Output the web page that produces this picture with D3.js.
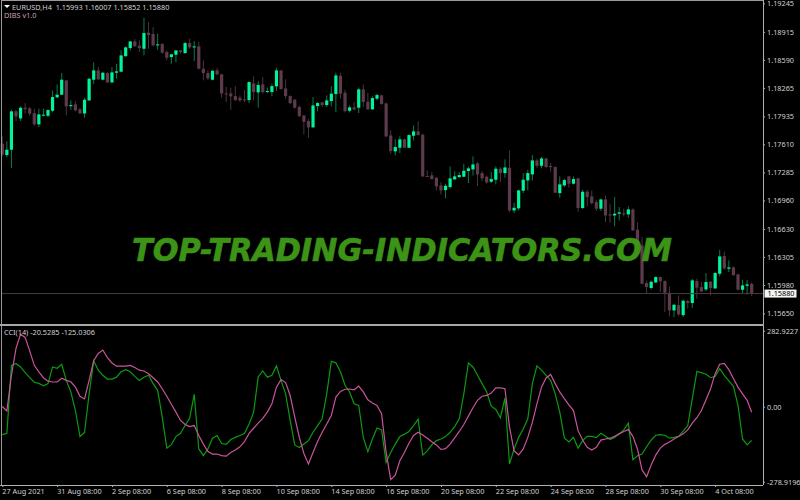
<!DOCTYPE html>
<html>
<head>
<meta charset="utf-8">
<script src="https://cdn.jsdelivr.net/npm/d3@7"></script>
<style>
  html, body { margin: 0; padding: 0; background: #000; }
  svg { display: block; }
  text { font-family: "Noto Sans", "DejaVu Sans", sans-serif; font-size: 7.3px; fill: #d0d0d0; }
</style>
</head>
<body>
<div id="chart"></div>
<script>
var open = [1.17618,1.17486,1.17548,1.17993,1.17911,1.18035,1.18027,1.17973,1.17842,1.17946,1.17942,1.18000,1.18155,1.18186,1.18352,1.18054,1.18074,1.18016,1.17969,1.18120,1.18360,1.18468,1.18360,1.18437,1.18329,1.18441,1.18453,1.18634,1.18727,1.18804,1.18754,1.18719,1.18905,1.18890,1.18762,1.18774,1.18681,1.18623,1.18650,1.18700,1.18669,1.18785,1.18739,1.18746,1.18487,1.18437,1.18360,1.18468,1.18422,1.18201,1.18201,1.18170,1.18151,1.18132,1.18124,1.18317,1.18213,1.18306,1.18217,1.18217,1.18283,1.18468,1.18259,1.18170,1.18128,1.18043,1.17946,1.17881,1.17807,1.18054,1.18097,1.18066,1.18112,1.18194,1.18406,1.18209,1.18000,1.18039,1.18035,1.18248,1.18105,1.18016,1.18140,1.18178,1.18085,1.17714,1.17529,1.17571,1.17668,1.17571,1.17710,1.17761,1.17722,1.17243,1.17250,1.17223,1.17134,1.17080,1.17115,1.17204,1.17231,1.17235,1.17301,1.17320,1.17390,1.17277,1.17235,1.17177,1.17200,1.17328,1.17277,1.17339,1.16844,1.16868,1.17073,1.17192,1.17262,1.17424,1.17362,1.17447,1.17359,1.17347,1.17045,1.17134,1.17239,1.17154,1.17216,1.16872,1.17061,1.17007,1.16941,1.16864,1.16972,1.16798,1.16786,1.16806,1.16810,1.16798,1.16856,1.16620,1.16438,1.16002,1.15944,1.16009,1.16071,1.16025,1.15889,1.15685,1.15746,1.15630,1.15793,1.15770,1.16025,1.15955,1.15928,1.16017,1.15940,1.16110,1.16315,1.16168,1.16183,1.16102,1.15924,1.15971,1.15993];
var high = [1.17703,1.17645,1.18012,1.18012,1.18051,1.18089,1.18043,1.18024,1.18024,1.18024,1.18020,1.18236,1.18306,1.18437,1.18352,1.18120,1.18112,1.18035,1.18151,1.18383,1.18561,1.18507,1.18449,1.18449,1.18507,1.18545,1.18700,1.18746,1.18808,1.18832,1.18816,1.19079,1.19029,1.18971,1.18893,1.18785,1.18700,1.18661,1.18700,1.18700,1.18797,1.18835,1.18808,1.18797,1.18584,1.18468,1.18468,1.18495,1.18429,1.18275,1.18267,1.18283,1.18178,1.18244,1.18341,1.18399,1.18341,1.18391,1.18267,1.18313,1.18499,1.18468,1.18364,1.18178,1.18136,1.18062,1.17946,1.17908,1.18159,1.18101,1.18105,1.18178,1.18283,1.18441,1.18441,1.18244,1.18062,1.18101,1.18267,1.18306,1.18209,1.18167,1.18198,1.18186,1.18093,1.17772,1.17668,1.17703,1.17676,1.17726,1.17830,1.17877,1.17734,1.17308,1.17289,1.17231,1.17173,1.17154,1.17355,1.17297,1.17289,1.17386,1.17355,1.17471,1.17405,1.17301,1.17250,1.17289,1.17355,1.17347,1.17436,1.17540,1.16933,1.17084,1.17277,1.17316,1.17486,1.17444,1.17463,1.17455,1.17393,1.17355,1.17239,1.17212,1.17239,1.17239,1.17223,1.17084,1.17084,1.17076,1.16968,1.16980,1.17018,1.16922,1.16999,1.16883,1.16864,1.16891,1.16868,1.16709,1.16535,1.16033,1.16033,1.16079,1.16079,1.16033,1.15963,1.15762,1.15859,1.15808,1.15808,1.16052,1.16052,1.16013,1.16118,1.16025,1.16129,1.16388,1.16369,1.16265,1.16195,1.16110,1.16040,1.16040,1.16007];
var low = [1.17471,1.17463,1.17335,1.17881,1.17881,1.17966,1.17942,1.17826,1.17811,1.17942,1.17927,1.17981,1.18151,1.18182,1.17946,1.18012,1.17993,1.17966,1.17919,1.18112,1.18313,1.18360,1.18352,1.18321,1.18321,1.18371,1.18445,1.18623,1.18700,1.18739,1.18681,1.18642,1.18719,1.18746,1.18708,1.18661,1.18584,1.18545,1.18561,1.18661,1.18661,1.18719,1.18576,1.18480,1.18352,1.18360,1.18352,1.18410,1.18151,1.18101,1.18012,1.18112,1.18101,1.18101,1.18089,1.18120,1.18035,1.18198,1.18205,1.18167,1.18228,1.18248,1.18140,1.18078,1.18024,1.17927,1.17726,1.17687,1.17803,1.17993,1.18043,1.18043,1.18051,1.17985,1.18140,1.17981,1.17981,1.18004,1.17973,1.18043,1.18012,1.18012,1.18120,1.18070,1.17695,1.17502,1.17482,1.17509,1.17571,1.17567,1.17656,1.17714,1.17231,1.17231,1.17200,1.17076,1.17030,1.16984,1.17096,1.17200,1.17223,1.17231,1.17161,1.17250,1.17127,1.17185,1.17154,1.17161,1.17146,1.17173,1.17223,1.16825,1.16813,1.16844,1.17045,1.17076,1.17192,1.17339,1.17332,1.17339,1.17293,1.17045,1.16991,1.17115,1.17107,1.17146,1.16829,1.16860,1.16891,1.16914,1.16837,1.16837,1.16709,1.16701,1.16659,1.16728,1.16775,1.16759,1.16605,1.16419,1.15986,1.15878,1.15928,1.16002,1.15897,1.15665,1.15615,1.15607,1.15623,1.15607,1.15704,1.15712,1.15820,1.15897,1.15909,1.15859,1.15932,1.16079,1.16156,1.16129,1.16087,1.15917,1.15878,1.15870,1.15852];
var close = [1.17494,1.17548,1.17993,1.17935,1.18035,1.18020,1.17966,1.17842,1.17958,1.17954,1.18008,1.18159,1.18186,1.18360,1.18051,1.18066,1.18004,1.17969,1.18128,1.18371,1.18468,1.18364,1.18441,1.18329,1.18445,1.18457,1.18642,1.18735,1.18804,1.18750,1.18727,1.18901,1.18878,1.18758,1.18770,1.18673,1.18615,1.18654,1.18700,1.18681,1.18785,1.18735,1.18746,1.18487,1.18437,1.18375,1.18464,1.18422,1.18201,1.18194,1.18167,1.18124,1.18120,1.18124,1.18333,1.18217,1.18298,1.18217,1.18228,1.18286,1.18468,1.18252,1.18170,1.18089,1.18035,1.17938,1.17873,1.17807,1.18062,1.18089,1.18066,1.18120,1.18198,1.18410,1.18198,1.17996,1.18039,1.18016,1.18248,1.18101,1.18016,1.18147,1.18182,1.18078,1.17703,1.17533,1.17579,1.17668,1.17571,1.17718,1.17761,1.17718,1.17239,1.17235,1.17208,1.17123,1.17076,1.17130,1.17216,1.17239,1.17254,1.17304,1.17332,1.17378,1.17262,1.17216,1.17169,1.17208,1.17328,1.17277,1.17343,1.16844,1.16875,1.17076,1.17200,1.17277,1.17424,1.17362,1.17447,1.17347,1.17347,1.17049,1.17146,1.17196,1.17154,1.17208,1.16872,1.17061,1.16999,1.16929,1.16864,1.16972,1.16786,1.16786,1.16806,1.16821,1.16798,1.16856,1.16612,1.16438,1.15994,1.15955,1.16017,1.16071,1.16021,1.15889,1.15685,1.15750,1.15638,1.15797,1.15770,1.16033,1.15947,1.15905,1.16013,1.15944,1.16118,1.16311,1.16172,1.16183,1.16094,1.15924,1.15975,1.15986,1.15880];

var cciMain = [-104,-99,154,161,148,127,108,91,87,78,86,148,143,158,98,55,-14,-111,-96,48,171,136,117,103,103,110,130,138,130,113,98,110,117,86,61,-39,-154,-141,-111,-99,-70,-43,46,-157,-182,-157,-117,-107,-137,-140,-122,-114,-107,-100,-64,-20,111,133,110,117,152,98,48,-51,-142,-152,-139,-126,-95,-70,-45,48,169,164,130,80,55,11,5,-114,-167,-120,-79,-86,-207,-170,-139,-111,-102,-92,-70,-46,-180,-164,-142,-126,-120,-111,-95,-74,-45,48,163,148,117,86,55,2,-10,-41,32,-213,-157,-114,-83,-45,86,152,136,117,98,48,-20,-116,-131,-114,-154,-126,-110,-110,-115,-99,-110,-122,-114,-101,-86,-61,-197,-182,-176,-149,-124,-106,-104,-106,-117,-114,-110,-91,-71,30,131,127,121,108,113,142,117,96,76,5,-120,-142,-125.0306];
var cciSignal = [1,-16,117,217,270,258,208,154,130,108,95,92,92,106,98,93,73,39,29,98,171,198,211,183,163,151,151,151,154,146,136,133,123,108,92,67,39,9,-20,-51,-66,-74,-70,-107,-139,-167,-176,-176,-182,-184,-170,-161,-149,-130,-99,-80,-61,-43,-20,11,73,101,90,42,-39,-114,-174,-213,-170,-129,-95,-64,-33,36,57,65,66,63,77,55,26,14,5,-26,-170,-271,-255,-201,-170,-136,-107,-95,-105,-117,-130,-142,-159,-156,-139,-116,-92,-66,-35,-4,24,39,42,51,70,70,67,-76,-164,-179,-157,-114,-58,11,73,107,120,86,55,30,7,-14,-89,-124,-151,-161,-151,-124,-120,-117,-110,-101,-92,-85,-110,-157,-235,-260,-217,-180,-154,-140,-131,-120,-111,-101,-86,-61,-41,-14,26,67,123,158,161,138,105,73,48,24,-20.5285];

var priceTicks = ["1.19245","1.18915","1.18590","1.18265","1.17935","1.17610","1.17285","1.16960","1.16630","1.16305","1.15980","1.15650"];
var cciTicks = [282.9227, 0, -278.9196];
var cciTickLabels = ["282.9227", "0.00", "-278.9196"];
var dateTicks = [0,12,24,36,48,60,72,84,96,108,120,132,144,156];
var dateLabels = ["27 Aug 2021","31 Aug 08:00","2 Sep 08:00","6 Sep 08:00","8 Sep 08:00","10 Sep 08:00","14 Sep 08:00","16 Sep 08:00","20 Sep 08:00","22 Sep 08:00","24 Sep 08:00","28 Sep 08:00","30 Sep 08:00","4 Oct 08:00"];
var lastPrice = 1.15880;

var upColor = "#00f59b", upWick = "#0a7a52",
    downColor = "#5e3b4c", downWick = "#4b3340";

var svg = d3.select("#chart").append("svg")
    .attr("width", 800)
    .attr("height", 500)
    .style("background", "#000");

var x = d3.scaleLinear().domain([0, 164]).range([2.3, 751.7]);
var yPrice = d3.scaleLinear().domain([1.15650, 1.19245]).range([313.4, 3.4]);
var yCci = d3.scaleLinear().domain([-278.9196, 282.9227]).range([481.7, 330.7]);

// candles
var bars = svg.append("g").selectAll("g")
    .data(open)
    .enter()
    .append("g");

bars.append("line")
    .attr("x1", function (d, i) { return x(i); })
    .attr("x2", function (d, i) { return x(i); })
    .attr("y1", function (d, i) { return yPrice(high[i]); })
    .attr("y2", function (d, i) { return yPrice(low[i]); })
    .attr("stroke", function (d, i) { return close[i] >= d ? upWick : downWick; })
    .attr("stroke-width", 1);

bars.append("rect")
    .attr("x", function (d, i) { return x(i) - 1.6; })
    .attr("width", 3.2)
    .attr("y", function (d, i) { return yPrice(Math.max(d, close[i])); })
    .attr("height", function (d, i) { return Math.max(1, Math.abs(yPrice(d) - yPrice(close[i]))); })
    .attr("fill", function (d, i) { return close[i] >= d ? upColor : downColor; });

// last price line
svg.append("line")
    .attr("x1", 2).attr("x2", 763)
    .attr("y1", yPrice(lastPrice)).attr("y2", yPrice(lastPrice))
    .attr("stroke", "#4a3a42");

// watermark
svg.append("text")
    .attr("x", 132)
    .attr("y", 261)
    .attr("textLength", 540)
    .attr("lengthAdjust", "spacingAndGlyphs")
    .style("font-family", "'DejaVu Sans', sans-serif")
    .style("font-size", "32px")
    .style("font-weight", "bold")
    .style("font-style", "italic")
    .style("fill", "#409c18")
    .style("stroke", "#409c18")
    .style("stroke-width", 0.6)
    .style("opacity", 0.95)
    .text("TOP-TRADING-INDICATORS.COM");

// cci lines
var line = function (values) {
    return d3.line()
        .x(function (d, i) { return x(i); })
        .y(function (d) { return yCci(d); })(values);
};

svg.append("path")
    .attr("d", line(cciMain))
    .attr("fill", "none")
    .attr("stroke", "#0c9a10")
    .attr("stroke-width", 1.2);

svg.append("path")
    .attr("d", line(cciSignal))
    .attr("fill", "none")
    .attr("stroke", "#c9549a")
    .attr("stroke-width", 1.2);

// frame
svg.append("rect").attr("x", 1).attr("y", 0).attr("width", 1).attr("height", 485).attr("fill", "#9a9a9a");
svg.append("rect").attr("x", 1).attr("y", 0).attr("width", 762).attr("height", 1).attr("fill", "#9a9a9a");
svg.append("rect").attr("x", 0).attr("y", 324).attr("width", 764).attr("height", 2).attr("fill", "#a8a8a8");

// axes
var axisPrice = d3.axisRight(yPrice)
    .tickValues(priceTicks.map(Number))
    .tickSize(2)
    .tickPadding(2)
    .tickFormat(function (d, i) { return priceTicks[i]; });

var gPrice = svg.append("g").attr("transform", "translate(763,0)").call(axisPrice);

var axisCci = d3.axisRight(yCci)
    .tickValues(cciTicks)
    .tickSize(2)
    .tickPadding(2)
    .tickFormat(function (d, i) { return cciTickLabels[i]; });

var gCci = svg.append("g").attr("transform", "translate(763,0)").call(axisCci);

var axisDate = d3.axisBottom(x)
    .tickValues(dateTicks)
    .tickSize(2)
    .tickPadding(2)
    .tickFormat(function (d, i) { return dateLabels[i]; });

var gDate = svg.append("g").attr("transform", "translate(0,485)").call(axisDate);

gDate.selectAll("text").attr("text-anchor", "start").attr("x", -0.5);

[gPrice, gCci, gDate].forEach(function (g) {
    g.selectAll("line").attr("stroke", "#b0b0b0");
    g.select(".domain").attr("stroke", "#b0b0b0");
    g.selectAll("text").style("fill", "#d0d0d0").style("font-family", "'Noto Sans', sans-serif").style("font-size", "7.3px");
});
gPrice.select(".domain").attr("d", "M0.5,0V324");
gCci.select(".domain").attr("d", "M0.5,326V485");
gDate.select(".domain").attr("d", "M0,0.5H763");

// last price tag
svg.append("rect")
    .attr("x", 764.5).attr("y", yPrice(lastPrice) - 4)
    .attr("width", 32).attr("height", 8)
    .attr("fill", "#f4f4f4");

svg.append("text")
    .attr("x", 767.5)
    .attr("y", yPrice(lastPrice) + 2.6)
    .style("fill", "#000")
    .text("1.15880");

// header texts
svg.append("path")
    .attr("d", "M4,5H10L7,8Z")
    .attr("fill", "#fff");

svg.append("text").attr("x", 12).attr("y", 10).style("fill", "#d0d0d0")
    .text("EURUSD,H4\u00a0\u00a01.15993\u00a01.16007\u00a01.15852\u00a01.15880");

svg.append("text").attr("x", 4).attr("y", 17.5).style("fill", "#c8a0b8")
    .text("DIBS v1.0");

svg.append("text").attr("x", 4).attr("y", 334.5).style("fill", "#d0d0d0")
    .text("CCI(14) -20.5285 -125.0306");
</script>
</body>
</html>
